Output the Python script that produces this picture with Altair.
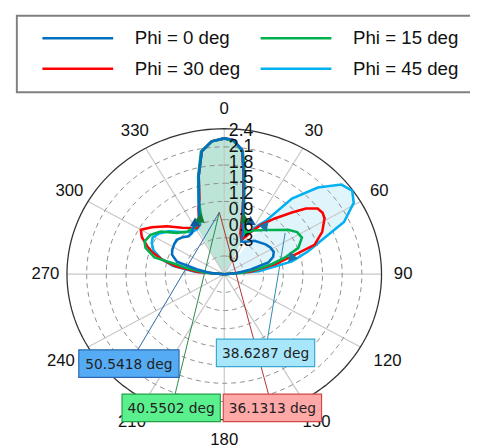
import altair as alt
import numpy as np
import pandas as pd

# ---------------- data ----------------
series = ["Phi = 0 deg", "Phi = 15 deg", "Phi = 30 deg", "Phi = 45 deg"]
colors = ["#0070c0", "#00b050", "#ff0000", "#00b0f0"]

theta_phi0 = [-90, -85, -79, -74, -68, -63, -57, -52, -46, -41, -36, -32, -28, -24, -20, -17.8, -13.5, -9.6, -5, 0,
              3.5, 7.6, 10, 13.2, 15, 17, 19, 22, 26, 31.7, 40, 52, 58, 64, 69, 74, 79, 85, 90]
r_phi0 = [0, 0.2, 0.43, 0.75, 0.86, 0.89, 0.91, 0.92, 0.88, 0.83, 0.84, 0.9, 0.93, 0.95, 1.12, 1.28, 1.67, 2.06, 2.2, 2.24,
          2.22, 2.07, 1.72, 1.32, 1.14, 0.98, 0.86, 0.75, 0.6, 0.63, 0.72, 0.8, 0.83, 0.84, 0.8, 0.7, 0.41, 0.18, 0]

theta_phi15 = [-90, -85, -80, -77.5, -75.5, -70, -66, -60, -54, -47, -39, -30, -24, -21, -18, -14, -10, -5, 0,
               4, 8, 10.5, 13.5, 15.5, 17.5, 20, 25, 32, 40, 47, 53, 58, 63, 69, 73.5, 77, 80, 85, 90]
r_phi15 = [0, 0.3, 0.6, 0.74, 1.1, 1.28, 1.33, 1.3, 1.2, 1.0, 0.9, 0.9, 0.92, 0.96, 1.25, 1.65, 2.05, 2.2, 2.24,
           2.2, 2.04, 1.7, 1.3, 1.12, 1.0, 0.95, 0.75, 0.85, 0.95, 1.07, 1.22, 1.31, 1.33, 1.21, 0.97, 0.75, 0.55, 0.28, 0]

theta_phi30 = [-90, -85, -80, -76, -72, -69, -64, -60, -55, -48, -40, -34, -29, -25, -20, -17, -13.5, -9.6, -5, 0,
               3.5, 7.6, 10, 13, 16, 20, 25, 30, 34.4, 40, 45.4, 49, 52.7, 56, 59, 65, 70.6, 74, 78, 84, 90]
r_phi30 = [0, 0.4, 0.75, 0.97, 1.15, 1.25, 1.4, 1.47, 1.35, 1.18, 1.0, 0.92, 0.87, 0.9, 1.15, 1.3, 1.67, 2.06, 2.2, 2.24,
           2.22, 2.06, 1.7, 1.3, 1.0, 0.72, 0.62, 0.8, 0.98, 1.2, 1.45, 1.65, 1.79, 1.81, 1.785, 1.65, 1.46, 1.07, 0.8, 0.4, 0]

theta_phi45 = [-90, -85, -80, -75, -70, -65, -61, -56, -50, -43, -35, -29, -24, -20, -17, -13.5, -9.6, -5, 0,
               4, 7.6, 10, 13, 16, 20, 25, 29, 33, 36, 39.6, 45, 50.4, 54.8, 59.2, 64.8, 68.6, 73.7, 78.5, 84.6, 90]
r_phi45 = [0, 0.45, 0.8, 1.0, 1.15, 1.22, 1.25, 1.2, 1.1, 0.95, 0.85, 0.85, 0.9, 1.12, 1.3, 1.67, 2.05, 2.2, 2.24,
           2.2, 2.05, 1.7, 1.3, 0.98, 0.77, 0.7, 0.8, 0.965, 1.1, 1.62, 2.02, 2.32, 2.39, 2.3, 2.02, 1.64, 1.33, 1.056, 0.53, 0]

# beam widths (deg) and the -3 dB edges (theta) that the arrows mark
beamwidths = [50.5418, 40.5502, 36.1313, 38.6287]
arrow_theta = [-28, 25, -22, 19, 38, 75]
arrow_r = [0.95, 0.95, 0.98, 0.95, 1.0, 1.07]

angle_labels = list(range(0, 360, 30))
radial_ticks = [0, 0.3, 0.6, 0.9, 1.2, 1.5, 1.8, 2.1, 2.4]

# ---------------- layout ----------------
R_MAX = 2.4
W, H = 470, 438
CX, CY = 220, 267            # pole, in plot pixels
SX, SY = 160 / R_MAX, 148 / R_MAX
xs = alt.Scale(domain=[-CX / SX, (W - CX) / SX], nice=False, zero=False)
ys = alt.Scale(domain=[-(H - CY) / SY, CY / SY], nice=False, zero=False)
X = alt.X("x:Q", scale=xs, axis=None)
Y = alt.Y("y:Q", scale=ys, axis=None)


def pol(theta, r):
    t = np.radians(np.asarray(theta, dtype=float))
    r = np.asarray(r, dtype=float)
    return r * np.sin(t), r * np.cos(t)


# grid rings
ring_rows = []
tt = np.arange(0, 361, 2)
for v in radial_ticks[1:]:
    gx, gy = pol(tt, np.full(tt.shape, v))
    for i, (a, b) in enumerate(zip(gx, gy)):
        ring_rows.append({"ring": v, "i": i, "x": a, "y": b})
rings = pd.DataFrame(ring_rows)

spoke_rows = []
for a in angle_labels:
    ex, ey = pol([a], [R_MAX])
    spoke_rows.append({"x": 0.0, "y": 0.0, "x2": ex[0], "y2": ey[0]})
spokes = pd.DataFrame(spoke_rows)

lab_r = []
for a in angle_labels:
    t = np.radians(a)
    lab_r.append(2.73 + (0.17 * abs(np.sin(t)) if np.cos(t) < -0.01 else 0.0))
lx, ly = pol(angle_labels, lab_r)
alabels = pd.DataFrame({"x": lx, "y": ly, "t": [str(a) for a in angle_labels]})

# radial labels (drawn slightly compressed as in the original)
rl_y = [0.28 + v * 0.865 for v in radial_ticks]
rlabels = pd.DataFrame({"x": [0.07] * len(radial_ticks), "y": rl_y,
                        "t": [("%g" % v) for v in radial_ticks]})

thetas = [theta_phi0, theta_phi15, theta_phi30, theta_phi45]
rs = [r_phi0, r_phi15, r_phi30, r_phi45]
curve_rows = []
for s, th, rr in zip(series, thetas, rs):
    cx_, cy_ = pol(th, rr)
    for i, (a, b) in enumerate(zip(cx_, cy_)):
        curve_rows.append({"series": s, "i": i, "x": a, "y": b})
curves = pd.DataFrame(curve_rows)


def sector(th, rr, lo, hi):
    pts = [(0.0, 0.0)]
    for a, b in zip(th, rr):
        if lo <= a <= hi:
            px, py = pol([a], [b])
            pts.append((px[0], py[0]))
    pts.append((0.0, 0.0))
    return pd.DataFrame({"i": range(len(pts)), "x": [p[0] for p in pts], "y": [p[1] for p in pts]})


fill_main = sector(theta_phi0, r_phi0, -28, 26)
fill_side = sector(theta_phi45, r_phi45, 36, 75)

ax_, ay_ = pol(arrow_theta, arrow_r)
arrows = pd.DataFrame({"x": ax_, "y": ay_,
                       "c": ["#0d5a9e", "#0d5a9e", "#137a3a", "#137a3a", "#1a74a6", "#1a74a6"],
                       "ang": [0, 0, 10, 350, 40, 100]})

layers = []
# fills
layers.append(alt.Chart(fill_main).mark_line(fill="#bce4d7", stroke="#bce4d7", strokeWidth=0.5)
              .encode(x=X, y=Y, order="i:Q"))
layers.append(alt.Chart(fill_side).mark_line(fill="#e0f4fc", stroke="#e0f4fc", strokeWidth=0.5)
              .encode(x=X, y=Y, order="i:Q"))
# grid
layers.append(alt.Chart(spokes).mark_rule(color="#c8c8c8", strokeWidth=1.2)
              .encode(x=X, y=Y, x2="x2:Q", y2="y2:Q"))
layers.append(alt.Chart(rings[rings.ring < R_MAX]).mark_line(color="#8c8c8c", strokeDash=[5, 4], strokeWidth=1)
              .encode(x=X, y=Y, detail="ring:N", order="i:Q"))
layers.append(alt.Chart(rings[rings.ring == R_MAX]).mark_line(color="#333333", strokeWidth=1.3)
              .encode(x=X, y=Y, order="i:Q"))
layers.append(alt.Chart(alabels).mark_text(font="Liberation Sans", fontSize=17, color="#111")
              .encode(x=X, y=Y, text="t:N"))

# annotation connector lines (pixel layout)
conn = [((132, 344), (215, 204), "#2a66a8"),
        ((170, 389), (215, 204), "#2a8a4a"),
        ((265, 389), (215, 204), "#b03030"),
        ((264, 333), (282, 225), "#2a8ab0")]
for (p1, p2, c) in conn:
    layers.append(alt.Chart().mark_rule(color=c, strokeWidth=1)
                  .encode(x=alt.value(p1[0]), y=alt.value(p1[1]), x2=alt.value(p2[0]), y2=alt.value(p2[1])))

# curves
order_draw = [3, 2, 1, 0]
for k in order_draw:
    layers.append(alt.Chart(curves[curves.series == series[k]]).mark_line(color=colors[k], strokeWidth=2.6)
                  .encode(x=X, y=Y, order="i:Q"))

for _, row in arrows.iterrows():
    layers.append(alt.Chart(pd.DataFrame([row])).mark_point(shape="triangle", filled=True, size=110,
                                                            color=row["c"], opacity=1, angle=float(row["ang"]))
                  .encode(x=X, y=Y))

layers.append(alt.Chart(rlabels).mark_text(font="Liberation Sans", fontSize=18, align="left", color="#111")
              .encode(x=X, y=Y, text="t:N"))

# annotation boxes
boxes = [((72, 344, 174, 372), "#56acf4", "#2a6ab0", beamwidths[0]),
         ((116, 389, 216, 417), "#5af08e", "#22a048", beamwidths[1]),
         ((219, 389, 319, 417), "#ffa8a8", "#d04848", beamwidths[2]),
         ((212, 333, 312, 361), "#a8e6fb", "#3aa8d0", beamwidths[3])]
for (b, fc, sc, val) in boxes:
    layers.append(alt.Chart().mark_rect(fill=fc, stroke=sc, strokeWidth=1.2)
                  .encode(x=alt.value(b[0]), x2=alt.value(b[2]), y=alt.value(b[1]), y2=alt.value(b[3])))
    layers.append(alt.Chart().mark_text(font="DejaVu Sans", fontSize=14, color="#222")
                  .encode(x=alt.value((b[0] + b[2]) / 2), y=alt.value((b[1] + b[3]) / 2 + 1),
                          text=alt.value("%.4f deg" % val)))

# legend (manual box)
layers.append(alt.Chart().mark_rect(fill="white", stroke="#808080", strokeWidth=2)
              .encode(x=alt.value(9), x2=alt.value(480), y=alt.value(4), y2=alt.value(82)))
leg_pos = [(35, 27), (257, 27), (35, 58), (257, 58)]
for k, (lxp, lyp) in enumerate(leg_pos):
    layers.append(alt.Chart().mark_rule(color=colors[k], strokeWidth=2.6)
                  .encode(x=alt.value(lxp), x2=alt.value(lxp + 72), y=alt.value(lyp)))
    layers.append(alt.Chart().mark_text(font="Liberation Sans", fontSize=19, align="left", color="#111")
                  .encode(x=alt.value(lxp + 94), y=alt.value(lyp), text=alt.value(series[k])))

chart = alt.layer(*layers).properties(width=W, height=H, padding=0,
                                      autosize=alt.AutoSizeParams(type="none")).configure_view(stroke=None)

chart.save("out.html", embed_options={"renderer": "svg", "actions": False})
